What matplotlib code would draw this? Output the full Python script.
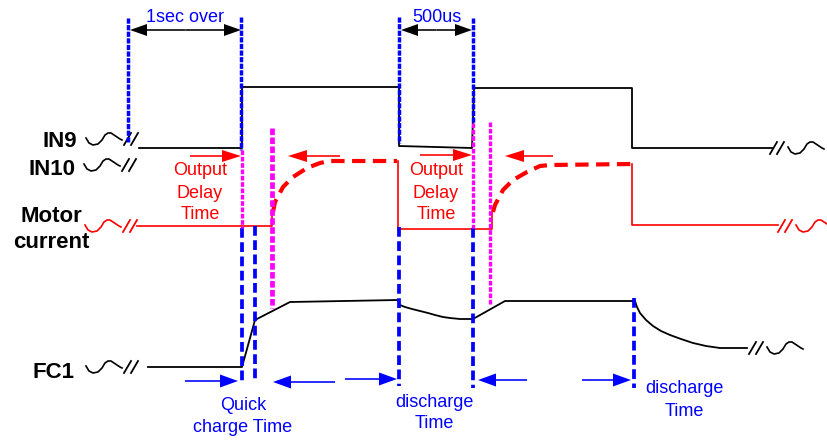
import matplotlib.pyplot as plt

plt.rcParams['font.family'] = ['Liberation Sans', 'DejaVu Sans']

BLUE = '#0000FF'
RED = '#FF0000'
MAGENTA = '#FF00FF'

# IN9 input waveform (sheet pixel coords)
in9_x = [139, 242, 242, 399, 399, 472, 474, 632, 632, 772]
in9_y = [148, 148, 87, 87, 146, 148, 88, 88, 148, 148]

# motor current, solid parts and dashed rise curves
motor_solid = [
    ([137, 272, 272], [226, 226, 212]),
    ([398, 398, 492, 492], [161, 229, 229, 212]),
    ([632, 632, 778], [164, 225, 225]),
]
motor_rise = [
    ([273, 275, 283, 293, 307, 320, 330, 397], [212, 202, 187, 177, 168, 163, 161, 161]),
    ([493, 495, 503, 513, 527, 540, 550, 632], [212, 205, 190, 180, 172, 166, 165, 164]),
]

# FC1 voltage
fc1_x = [148, 242, 255, 290, 398, 400, 405, 412, 420, 428, 435, 443, 450, 460, 473,
         505, 635, 637, 640, 646, 653, 661, 670, 681, 693, 706, 720, 747]
fc1_y = [367, 367, 320, 302, 300, 305, 307, 309, 311, 313, 315, 317, 318, 319, 319,
         301, 301, 307, 313, 320, 326, 331, 335, 339, 343, 346, 348, 348]

# vertical markers: (x, top, bottom)
blue_dotted = [(128, 18, 143), (241, 17, 150), (399, 17, 143), (473, 18, 123)]
blue_dashed = [(242, 228, 383), (255, 226, 380), (399, 227, 386), (473, 228, 388), (634, 298, 388)]
magenta_marks = [(242, 150, 228, 2.4), (272, 128, 308, 3.4), (473, 123, 228, 2.4), (490, 122, 305, 2.4)]

# arrows: (x_from, x_to, y)
span_arrows = [(130, 241, 30), (401, 472, 30)]
span_labels = ['1sec over', '500us']
span_label_x = [185, 437]
red_arrows = [(190, 241, 156), (340, 288, 156), (420, 472, 155), (553, 505, 156)]
blue_arrows = [(185, 238, 381), (335, 273, 382), (345, 397, 379), (527, 478, 380), (582, 631, 380)]

# texts
delay_x = [200, 436]
delay_lines = ['Output', 'Delay', 'Time']
delay_base = [175, 198, 219]
bottom_texts = [
    (243, ['Quick', 'charge Time'], [410, 432]),
    (434, ['discharge', 'Time'], [407, 428]),
    (684, ['discharge', 'Time'], [393, 416]),
]
signal_names = [('IN9', 77, 147, 'right'), ('IN10', 75, 175, 'right'),
                ('Motor', 51, 222, 'center'), ('current', 51, 248, 'center'),
                ('FC1', 75, 378, 'right')]

# break squiggle template
sq_dx = [0, 3, 7, 12, 16, 19, 22, 25, 28, 31, 34, 36]
sq_dy = [-1, 4, 6, 5, 1, -4, -6, -6, -4, -2, 0, 1]
breaks_left = [(86, 139, 'black'), (84, 165, 'black'), (85, 226, RED), (86, 367, 'black')]
breaks_right = [(770, 148, 'black'), (778, 226, RED), (749, 348, 'black')]

fig = plt.figure(figsize=(8.27, 4.40), dpi=100)
ax = fig.add_axes([0, 0, 1, 1])
ax.set_xlim(0, 827)
ax.set_ylim(440, 0)
ax.axis('off')


def squiggle(x0, y0, color):
    ax.plot([x0 + d for d in sq_dx], [y0 + d for d in sq_dy], color=color, lw=1.2)


def slashes(x0, y0, color):
    for off in (0, 7):
        ax.plot([x0 + off, x0 + off + 7], [y0 + 6, y0 - 6], color=color, lw=1.3)


for x0, y0, c in breaks_left:
    squiggle(x0, y0, c)
    slashes(x0 + 38, y0, c)
for x0, y0, c in breaks_right:
    slashes(x0, y0, c)
    squiggle(x0 + 18, y0, c)

# signals
ax.plot(in9_x, in9_y, color='black', lw=1.3)
for xs, ys in motor_solid:
    ax.plot(xs, ys, color=RED, lw=1.2)
for xs, ys in motor_rise:
    ax.plot(xs, ys, color=RED, lw=3, dashes=(3.2, 1.8), solid_capstyle='butt')
ax.plot(fc1_x, fc1_y, color='black', lw=1.3)

# markers
for x, t, b in blue_dotted:
    ax.plot([x, x], [t, b], color=BLUE, lw=2.5, linestyle=(0, (1.5, 0.4)))
for x, t, b in blue_dashed:
    ax.plot([x, x], [t, b], color=BLUE, lw=2.7, linestyle=(0, (2.6, 1.2)))
for x, t, b, w in magenta_marks:
    ax.plot([x, x], [t, b], color=MAGENTA, lw=w, linestyle=(0, (1.4, 0.5)))


def arrow(x1, x2, y, color, hw, hl):
    ax.arrow(x1, y, x2 - x1, 0, width=1.6, head_width=hw, head_length=hl,
             length_includes_head=True, color=color, lw=0)


for (x1, x2, y), lab, lx in zip(span_arrows, span_labels, span_label_x):
    mid = (x1 + x2) / 2
    arrow(mid, x1, y, 'black', 12, 17)
    arrow(mid, x2, y, 'black', 12, 17)
    ax.text(lx, 17, lab, color=BLUE, fontsize=13, ha='center', va='center')
for x1, x2, y in red_arrows:
    arrow(x1, x2, y, RED, 12, 19)
for x1, x2, y in blue_arrows:
    arrow(x1, x2, y, BLUE, 13, 18)

for dx in delay_x:
    for line, yb in zip(delay_lines, delay_base):
        ax.text(dx, yb, line, color=RED, fontsize=13, ha='center', va='baseline')
for tx, lines, bases in bottom_texts:
    for line, yb in zip(lines, bases):
        ax.text(tx, yb, line, color=BLUE, fontsize=13, ha='center', va='baseline')
for name, x, yb, ha in signal_names:
    ax.text(x, yb, name, fontsize=16, fontweight='bold', ha=ha, va='baseline')

fig.savefig('out.png', dpi=100)
